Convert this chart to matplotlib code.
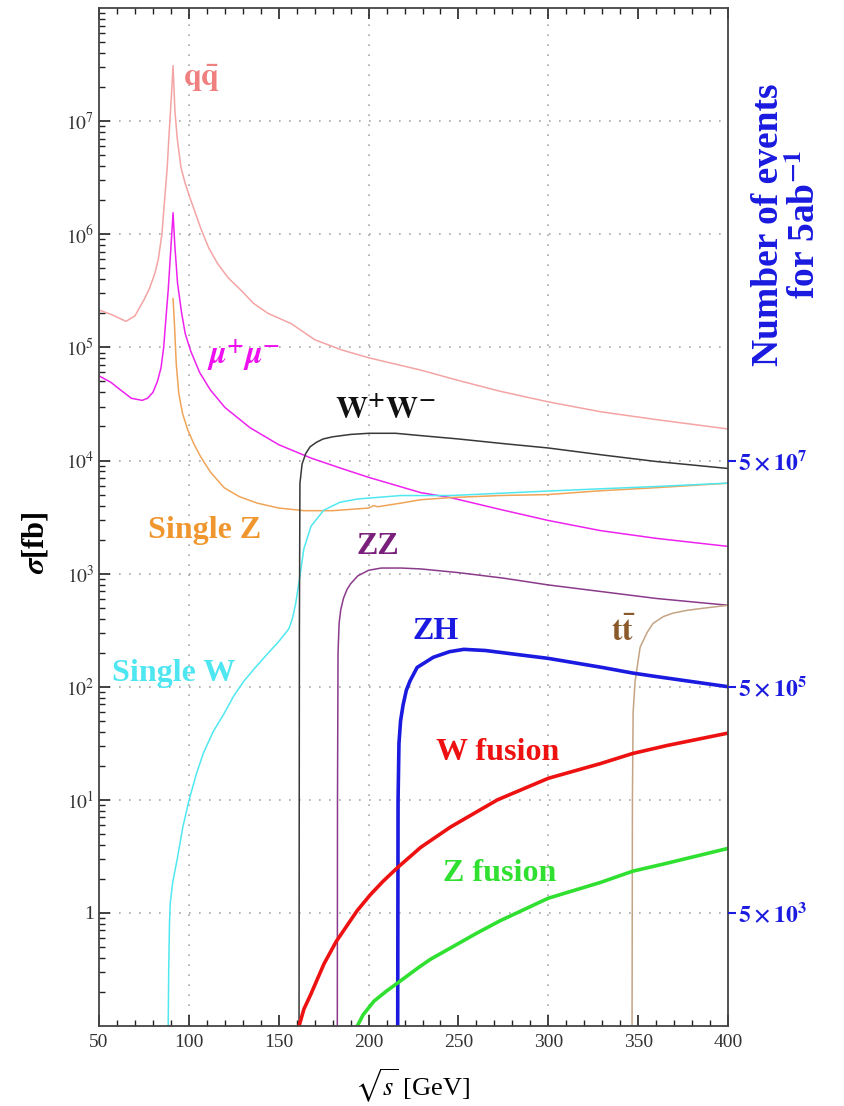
import matplotlib
matplotlib.use("Agg")
import matplotlib.pyplot as plt
from matplotlib.ticker import FixedLocator, FixedFormatter, LogLocator, NullLocator, NullFormatter

plt.rcParams["font.family"] = ["Liberation Serif", "DejaVu Serif"]
plt.rcParams["mathtext.fontset"] = "stix"

# integrated luminosity used for the right hand axis (fb^-1)
lumi = 5000.0

# sqrt(s) [GeV] and sigma [fb]
qq_x = [50, 57, 65, 70, 75, 78, 81, 83, 85, 86.5, 88, 89, 90.2, 91.2, 92.2, 93.5, 95.6, 98,
        101.1, 106.7, 111, 116, 122, 129, 136, 144, 157, 170, 185, 200, 229, 250, 273, 300,
        329, 360, 400]
qq_y = [2.14e5, 1.95e5, 1.70e5, 1.9e5, 2.63e5, 3.3e5, 4.47e5, 6.0e5, 1.0e6, 2.0e6, 4.0e6,
        7.8e6, 1.58e7, 3.1e7, 1.26e7, 7.1e6, 3.9e6, 2.8e6, 2.0e6, 1.12e6, 7.6e5, 5.5e5,
        4.1e5, 3.2e5, 2.45e5, 2.0e5, 1.62e5, 1.17e5, 9.5e4, 8.1e4, 6.3e4, 5.1e4, 4.1e4,
        3.3e4, 2.7e4, 2.3e4, 1.9e4]

mumu_x = [50, 56.7, 62, 68, 74, 77, 80, 82.5, 84.5, 86, 87, 88.5, 90, 91.2, 92.2, 93.7, 96,
          98, 101, 106, 112, 120, 134, 150, 168, 185, 200, 229, 245.6, 273, 300, 329, 360, 400]
mumu_y = [5.6e4, 4.9e4, 4.2e4, 3.55e4, 3.4e4, 3.55e4, 4.0e4, 5.0e4, 6.6e4, 1.0e5, 1.62e5,
          3.2e5, 7.6e5, 1.55e6, 7.9e5, 3.7e5, 2.0e5, 1.32e5, 9.3e4, 6.0e4, 4.2e4, 2.95e4,
          1.95e4, 1.38e4, 1.05e4, 8.5e3, 7.1e3, 5.2e3, 4.7e3, 3.7e3, 2.95e3, 2.4e3, 2.05e3,
          1.74e3]

singlez_x = [91.2, 92, 93, 94.4, 96.5, 99.4, 103, 106.7, 112, 119.6, 128, 138, 150, 164, 180,
             200, 203, 205, 218, 229, 245.6, 273, 300, 329, 360, 400]
singlez_y = [2.7e5, 1.58e5, 7.1e4, 3.9e4, 2.6e4, 1.86e4, 1.38e4, 1.07e4, 7.9e3, 5.75e3, 4.8e3,
             4.2e3, 3.8e3, 3.6e3, 3.6e3, 3.8e3, 4.0e3, 3.9e3, 4.2e3, 4.5e3, 4.7e3, 4.9e3,
             5.0e3, 5.4e3, 5.75e3, 6.3e3]

singlew_x = [88.5, 88.8, 89.2, 89.6, 91, 93.7, 96.5, 100, 104, 108, 113.5, 119.5, 125, 130.6,
             137, 143.7, 150, 155.6, 157.6, 159.4, 162, 164, 168, 175, 184, 194, 218, 245.6,
             273, 300, 329, 360, 400]
singlew_y = [0.1, 0.32, 0.79, 1.2, 1.86, 3.1, 5.6, 9.8, 16.6, 25.7, 40, 57.5, 83, 112, 148,
             195, 251, 324, 400, 540, 1000, 1660, 2630, 3630, 4270, 4570, 4900, 4900, 5130,
             5370, 5620, 5890, 6310]

ww_x = [161.3, 161.5, 161.8, 163, 165, 167.4, 171, 174.7, 180, 190, 200, 215, 229, 250, 275,
        300, 330, 360, 400]
ww_y = [0.1, 316, 6300, 9300, 11500, 13200, 14500, 15500, 16200, 17000, 17400, 17400, 16600,
        15500, 14100, 12900, 11200, 9800, 8500]

zz_x = [182.6, 182.7, 183, 183.6, 184.5, 186, 188, 190, 194, 200, 207, 218, 229, 250, 275,
        300, 330, 360, 400]
zz_y = [0.1, 10, 200, 363, 479, 603, 724, 813, 955, 1070, 1120, 1120, 1100, 1020, 912, 794,
        692, 603, 525]

zh_x = [216.2, 216.4, 216.9, 217.8, 219.2, 221, 223, 227, 236, 245, 253, 265, 280, 300, 330,
        347, 360, 400]
zh_y = [0.1, 10, 31.6, 50, 69, 93, 112, 148, 182, 204, 214, 209, 195, 178, 148, 132, 123, 100]

tt_x = [346.6, 346.8, 347.2, 348.3, 351.1, 355, 358.3, 364, 369.4, 377, 384.4, 392, 400]
tt_y = [0.1, 10, 60, 112, 224, 302, 363, 417, 447, 473, 490, 507, 525]

wfus_x = [161.3, 164, 167.8, 175.2, 182, 193.7, 201, 208, 215.9, 229, 245.6, 271.7, 300, 329,
          347, 366, 400]
wfus_y = [0.1, 0.141, 0.19, 0.355, 0.56, 1.05, 1.45, 1.9, 2.5, 3.8, 5.75, 10, 15.5, 20.9,
          25.7, 30.2, 38.9]

zfus_x = [193.7, 197, 203, 210, 217.8, 228, 234.4, 245.6, 260, 273, 300, 329, 347, 366, 400]
zfus_y = [0.1, 0.126, 0.166, 0.204, 0.251, 0.331, 0.389, 0.49, 0.66, 0.85, 1.35, 1.86, 2.34,
          2.75, 3.72]

x_ticks = [50, 100, 150, 200, 250, 300, 350, 400]
y_ticks = [1, 10, 1e2, 1e3, 1e4, 1e5, 1e6, 1e7]
y_tick_labels = ["1", r"$10^{1}$", r"$10^{2}$", r"$10^{3}$", r"$10^{4}$", r"$10^{5}$",
                 r"$10^{6}$", r"$10^{7}$"]
event_ticks = [5e3, 5e5, 5e7]
event_tick_labels = [r"$\mathbf{5\times10^{3}}$", r"$\mathbf{5\times10^{5}}$",
                     r"$\mathbf{5\times10^{7}}$"]

fig = plt.figure(figsize=(8.44, 11.06), dpi=100)
ax = fig.add_axes([0.1173, 0.0723, 0.7453, 0.9204])

# dotted grid
for gx in [100, 200, 300]:
    ax.axvline(gx, color="#a8a8a8", lw=1.2, ls=(0, (1, 5)), zorder=0)
for gy in y_ticks:
    ax.axhline(gy, color="#a8a8a8", lw=1.2, ls=(0, (1, 5)), zorder=0)

thin = 1.1
thick = 2.6
ax.plot(qq_x, qq_y, color="#f4a4a4", lw=thin)
ax.plot(mumu_x, mumu_y, color="#ee22ee", lw=thin)
ax.plot(singlez_x, singlez_y, color="#f0a458", lw=thin)
ax.plot(singlew_x, singlew_y, color="#50e8f0", lw=thin)
ax.plot(ww_x, ww_y, color="#383838", lw=thin)
ax.plot(zz_x, zz_y, color="#8b3a8b", lw=thin)
ax.plot(tt_x, tt_y, color="#c4a484", lw=thin)
ax.plot(zh_x, zh_y, color="#1a1ae0", lw=thick)
ax.plot(wfus_x, wfus_y, color="#ee1111", lw=thick)
ax.plot(zfus_x, zfus_y, color="#30e030", lw=thick)

ax.set_yscale("log")
ax.set_xlim(50, 400)
ax.set_ylim(0.1, 1e8)

ax.xaxis.set_major_locator(FixedLocator(x_ticks))
ax.xaxis.set_minor_locator(FixedLocator(range(50, 401, 10)))
ax.yaxis.set_major_locator(FixedLocator(y_ticks))
ax.yaxis.set_major_formatter(FixedFormatter(y_tick_labels))
ax.yaxis.set_minor_locator(LogLocator(base=10, subs=range(2, 10), numticks=20))
ax.yaxis.set_minor_formatter(NullFormatter())
ax.tick_params(which="both", direction="in", top=True, right=False, color="#222222",
               labelsize=14, labelcolor="#333333")
ax.tick_params(which="major", length=8, width=1.2)
ax.tick_params(which="minor", length=4, width=1.0)
ax.tick_params(axis="x", pad=6)
for sp in ax.spines.values():
    sp.set_color("#444444")
    sp.set_linewidth(1.3)

# right hand axis: number of events for 5 ab^-1
ax2 = ax.twinx()
ax2.set_yscale("log")
ax2.set_ylim(0.1 * lumi, 1e8 * lumi)
ax2.yaxis.set_major_locator(FixedLocator(event_ticks))
ax2.yaxis.set_major_formatter(FixedFormatter(event_tick_labels))
ax2.yaxis.set_minor_locator(NullLocator())
ax2.tick_params(axis="y", direction="out", length=6, width=1.5, color="#1a1ae0",
                labelcolor="#1a1ae0", labelsize=17, pad=1)
for sp in ax2.spines.values():
    sp.set_visible(False)

lab = dict(fontsize=23, fontweight="bold", ha="left", va="center")
ax.text(96.5, 10**7.38, r"$\mathbf{q\bar{q}}$", color="#f08080", **lab)
ax.text(110, 10**4.93, r"$\mathbfit{\mu}^{\mathbf{+}}\mathbfit{\mu}^{\mathbf{-}}$",
        color="#ee10ee", **lab)
ax.text(181.5, 10**4.44, r"$\mathbf{W^{+}W^{-}}$", color="#111111", **lab)
ax.text(77.2, 10**3.38, "Single Z", color="#f0962e", **lab)
ax.text(193, 10**3.24, "ZZ", color="#7a1f7a", **lab)
ax.text(224.7, 10**2.49, "ZH", color="#1a1ae0", **lab)
ax.text(335, 10**2.48, r"$\mathbf{t\bar{t}}$", color="#8b5a2b", **lab)
ax.text(57.2, 10**2.12, "Single W", color="#4ee6f0", **lab)
ax.text(237.5, 10**1.42, "W fusion", color="#ee1111", **lab)
ax.text(241.4, 10**0.35, "Z fusion", color="#30e030", **lab)

fig.text(0.042, 0.509, r"$\mathbfit{\sigma}$[fb]", rotation=90, fontsize=22,
         fontweight="bold", ha="center", va="center")
fig.text(0.489, 0.018, r"$\sqrt{s}$ [GeV]", fontsize=19, ha="center", va="center")
fig.text(0.932, 0.797, "Number of events\nfor 5ab$^{\\mathbf{-1}}$", rotation=90,
         fontsize=27, fontweight="bold", color="#1a1ae0", ha="center", va="center",
         multialignment="center", linespacing=1.05)

fig.savefig("out.png", dpi=100)
